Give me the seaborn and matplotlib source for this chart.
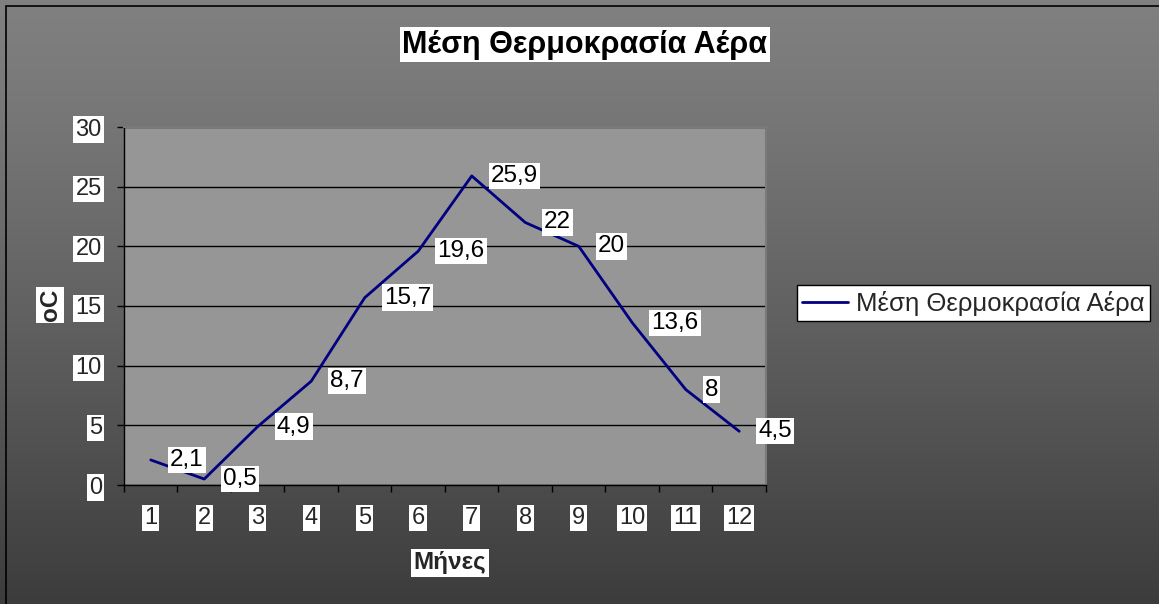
import numpy as np
import matplotlib
matplotlib.use('Agg')
import matplotlib.pyplot as plt
import seaborn as sns
from matplotlib.patches import Rectangle

# ---- data ----
months = [1, 2, 3, 4, 5, 6, 7, 8, 9, 10, 11, 12]
temps = [2.1, 0.5, 4.9, 8.7, 15.7, 19.6, 25.9, 22, 20, 13.6, 8, 4.5]
value_labels = ['2,1', '0,5', '4,9', '8,7', '15,7', '19,6', '25,9', '22', '20', '13,6', '8', '4,5']
month_labels = ['1', '2', '3', '4', '5', '6', '7', '8', '9', '10', '11', '12']
y_ticks = [0, 5, 10, 15, 20, 25, 30]
title = 'Μέση Θερμοκρασία Αέρα'
series_name = 'Μέση Θερμοκρασία Αέρα'
x_label = 'Μήνες'
y_label = 'oC'

sns.set_theme(style='white')
plt.rcParams['font.family'] = ['Liberation Sans', 'DejaVu Sans']

W, H = 1159, 604
fig = plt.figure(figsize=(W / 100, H / 100), dpi=100)

# background gradient
bg = fig.add_axes([0, 0, 1, 1], zorder=-10)
yy = np.linspace(0, 1, H)
vals = (128 - 68 * yy ** 1.2) / 255.0
img = np.repeat(vals[:, None, None], 3, axis=2)
img = np.repeat(img, 2, axis=1)
bg.imshow(img, aspect='auto', extent=[0, 1, 0, 1], interpolation='bilinear')
bg.set_xlim(0, 1)
bg.set_ylim(0, 1)
bg.axis('off')
bg.add_patch(Rectangle((6 / W, -0.1), 1.2, 1 - 6 / H + 0.1,
                       transform=bg.transAxes, fill=False, ec='black', lw=1.2,
                       clip_on=False))

# main axes
ax = fig.add_axes([124 / W, 1 - 485 / H, 642 / W, 358 / H])
ax.set_facecolor('#969696')
sns.lineplot(x=months, y=temps, ax=ax, color='#000080', lw=2, label=series_name)
ax.set_xlim(0.5, 12.5)
ax.set_ylim(0, 30)
ax.set_yticks(y_ticks)
ax.set_yticklabels([str(v) for v in y_ticks])
ax.set_xticks(months)
ax.set_xticklabels(month_labels)
ax.set_xticks([m + 0.5 for m in [0] + months], minor=True)
ax.grid(False)
ax.yaxis.grid(True, color='black', lw=1)
ax.set_axisbelow(True)
ax.set_xlabel('')
ax.set_ylabel('')

for s in ['left', 'bottom']:
    ax.spines[s].set_color('black')
    ax.spines[s].set_linewidth(1)
for s in ['top', 'right']:
    ax.spines[s].set_color('#7a7a7a')
    ax.spines[s].set_linewidth(1.5)

ax.tick_params(axis='y', which='major', direction='out', length=5, width=1,
               color='black', labelsize=17, pad=11, left=True)
ax.tick_params(axis='x', which='major', length=0, labelsize=17, pad=16)
ax.tick_params(axis='x', which='minor', direction='out', length=5, width=1,
               color='black', bottom=True)

for lbl in ax.get_xticklabels() + ax.get_yticklabels():
    lbl.set_bbox(dict(facecolor='white', edgecolor='none', pad=1.5))

# data labels
for m, t, s in zip(months, temps, value_labels):
    ax.annotate(s, (m, t), xytext=(19, 0), textcoords='offset pixels',
                ha='left', va='center', fontsize=17.5, color='black',
                bbox=dict(facecolor='white', edgecolor='none', pad=1.5),
                annotation_clip=False, zorder=5)

# legend
leg = ax.legend(loc='center left', bbox_to_anchor=(797 / W, 1 - 303 / H),
                bbox_transform=fig.transFigure, frameon=True, fancybox=False,
                edgecolor='black', facecolor='white', framealpha=1,
                fontsize=18.5, borderpad=0.2, handlelength=1.8,
                handletextpad=0.3, borderaxespad=0)
leg.get_frame().set_linewidth(1)

# title and axis labels
fig.text(585 / W, 1 - 44.5 / H, title, ha='center', va='center', fontsize=22,
         fontweight='bold', color='black',
         bbox=dict(facecolor='white', edgecolor='none', pad=1.5))
fig.text(50 / W, 1 - 305 / H, y_label, rotation=90, ha='center', va='center',
         fontsize=17.5, fontweight='bold',
         bbox=dict(facecolor='white', edgecolor='none', pad=1.5))
fig.text(450 / W, 1 - 563 / H, x_label, ha='center', va='center',
         fontsize=17.5, fontweight='bold',
         bbox=dict(facecolor='white', edgecolor='none', pad=1.5))

fig.savefig('out.png', dpi=100)
